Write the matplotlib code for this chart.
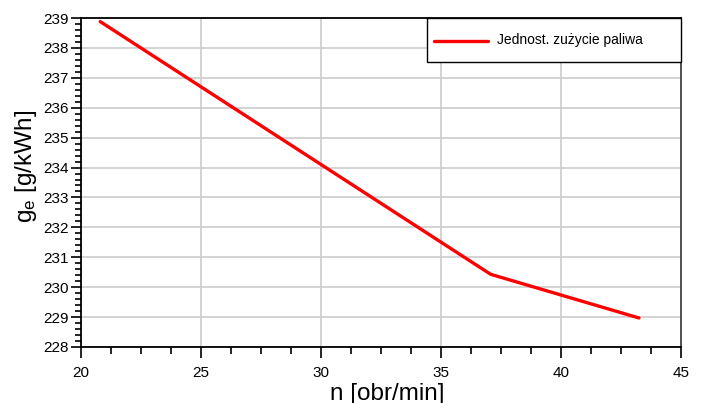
import numpy as np
import matplotlib
matplotlib.use('Agg')
import matplotlib.pyplot as plt
from matplotlib.ticker import MultipleLocator
from matplotlib.legend_handler import HandlerLine2D

plt.rcParams['font.family'] = ['Liberation Sans', 'DejaVu Sans']
plt.rcParams['mathtext.fontset'] = 'custom'
plt.rcParams['mathtext.rm'] = 'Liberation Sans'
plt.rcParams['mathtext.it'] = 'Liberation Sans'

# data
n_obr = [20.8, 37.07, 43.25]
ge = [238.88, 230.43, 228.97]
series_label = 'Jednost. zużycie paliwa'


class LowerLine(HandlerLine2D):
    """legend line moved a bit down so it sits next to the text"""
    def create_artists(self, legend, orig_handle, xdescent, ydescent,
                       width, height, fontsize, trans):
        arts = super().create_artists(legend, orig_handle, xdescent, ydescent,
                                      width, height, fontsize, trans)
        for a in arts:
            a.set_ydata(np.asarray(a.get_ydata()) - 4.3)
        return arts


fig = plt.figure(figsize=(7.04, 4.03), dpi=100)
ax = fig.add_axes([0.1151, 0.139, 0.8522, 0.8163])

line, = ax.plot(n_obr, ge, color='#ff0000', lw=2.4, solid_capstyle='round',
                solid_joinstyle='round', label=series_label, zorder=3)

ax.set_xlim(20, 45)
ax.set_ylim(228, 239)
ax.xaxis.set_major_locator(MultipleLocator(5))
ax.xaxis.set_minor_locator(MultipleLocator(1.25))
ax.yaxis.set_major_locator(MultipleLocator(1))
ax.yaxis.set_minor_locator(MultipleLocator(0.2))

ax.grid(True, which='major', color='#cccccc', lw=1.2)
ax.set_axisbelow(True)

ax.tick_params(axis='x', which='major', length=8, width=1.2, direction='out',
               labelsize=11, pad=6, colors='black')
ax.tick_params(axis='x', which='minor', length=5, width=1.2, direction='out')
ax.tick_params(axis='y', which='major', length=7, width=1.2, direction='out',
               labelsize=11, pad=2)
ax.tick_params(axis='y', which='minor', length=4, width=1.2, direction='out')

for side in ['left', 'bottom', 'top']:
    ax.spines[side].set_linewidth(1.3)
    ax.spines[side].set_color('black')
ax.spines['right'].set_linewidth(1.3)
ax.spines['right'].set_color('#444444')

ax.set_xlabel('n [obr/min]', fontsize=17.5, labelpad=1.5, x=0.51)
ax.set_ylabel(r'g$_{\rm e}$ [g/kWh]', fontsize=17.5, labelpad=3, y=0.55)

leg = ax.legend(loc='upper right', bbox_to_anchor=(0.577, 0.0, 0.423, 1.0),
                mode='expand', borderaxespad=0, fancybox=False,
                fontsize=10, handlelength=3.9, handletextpad=0.6,
                handleheight=3.0, borderpad=0.5, framealpha=1,
                handler_map={line: LowerLine()})
leg.get_frame().set_edgecolor('black')
leg.get_frame().set_linewidth(1.0)

fig.savefig('out.png', dpi=100)
